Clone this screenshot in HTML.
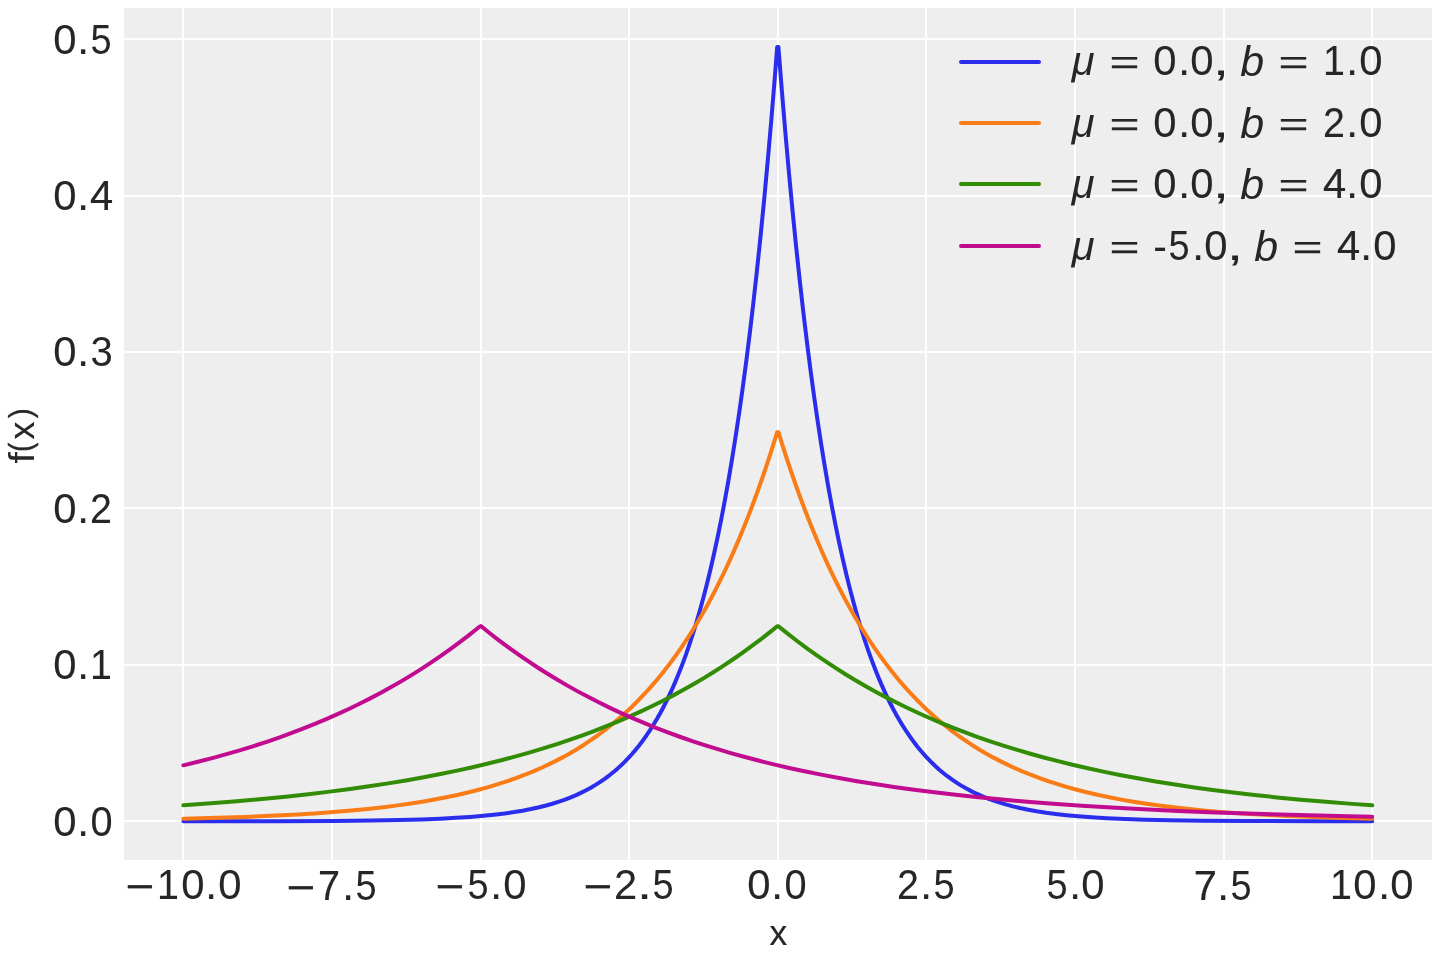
<!DOCTYPE html>
<html lang="en"><head><meta charset="utf-8"><title>Laplace distribution PDF</title>
<style>
html,body{margin:0;padding:0;background:#ffffff;width:1440px;height:960px;overflow:hidden}
svg{display:block;will-change:transform}
text{font-family:"Liberation Sans",sans-serif;fill:#262626;font-kerning:none;white-space:pre}
.it{font-style:italic}
</style></head><body>
<svg width="1440" height="960" viewBox="0 0 1440 960">
<rect x="0" y="0" width="1440" height="960" fill="#ffffff"/>
<rect x="124" y="8" width="1308" height="852" fill="#eeeeee"/>
<g fill="#ffffff">
<rect x="182" y="8" width="2" height="852"/><rect x="331" y="8" width="2" height="852"/><rect x="480" y="8" width="2" height="852"/><rect x="628" y="8" width="2" height="852"/><rect x="777" y="8" width="2" height="852"/><rect x="925" y="8" width="2" height="852"/><rect x="1074" y="8" width="2" height="852"/><rect x="1223" y="8" width="2" height="852"/><rect x="1371" y="8" width="2" height="852"/><rect x="124" y="38" width="1308" height="2"/><rect x="124" y="195" width="1308" height="2"/><rect x="124" y="351" width="1308" height="2"/><rect x="124" y="507" width="1308" height="2"/><rect x="124" y="664" width="1308" height="2"/><rect x="124" y="820" width="1308" height="2"/>
</g>
<g fill="none" stroke-width="4" stroke-linejoin="round" stroke-linecap="round">
<path stroke="#2a2eec" d="M183.40 821.31 L280.98 821.16 L334.53 820.89 L371.42 820.50 L398.79 820.01 L421.40 819.40 L440.44 818.66 L455.91 817.87 L470.19 816.92 L483.28 815.83 L493.99 814.74 L504.70 813.44 L514.22 812.07 L522.55 810.67 L530.88 809.06 L538.02 807.50 L545.16 805.73 L552.30 803.74 L558.25 801.88 L564.20 799.83 L570.15 797.57 L576.10 795.07 L580.86 792.87 L585.62 790.50 L590.38 787.93 L595.14 785.14 L599.90 782.13 L604.66 778.86 L609.42 775.31 L614.18 771.47 L617.75 768.39 L621.32 765.11 L624.89 761.63 L628.46 757.93 L632.03 754.01 L635.60 749.84 L639.17 745.41 L642.74 740.71 L646.31 735.72 L649.88 730.42 L653.45 724.79 L657.02 718.82 L660.59 712.47 L664.16 705.73 L667.73 698.57 L671.30 690.97 L674.87 682.90 L678.44 674.34 L682.01 665.24 L685.58 655.57 L689.15 645.31 L692.72 634.41 L696.29 622.84 L699.86 610.56 L703.43 597.51 L707.00 583.65 L710.57 568.94 L714.14 553.32 L717.71 536.72 L721.28 519.11 L724.85 500.40 L728.42 480.53 L731.99 459.43 L735.56 437.03 L739.13 413.24 L742.70 387.98 L746.27 361.16 L749.84 332.67 L753.41 302.42 L756.98 270.30 L760.55 236.19 L764.12 199.97 L767.69 161.50 L771.26 120.66 L774.83 77.29 L777.21 46.89 L778.41 46.89 L781.98 92.04 L785.55 134.55 L789.12 174.58 L792.69 212.28 L796.26 247.79 L799.83 281.22 L803.40 312.71 L806.97 342.36 L810.54 370.28 L814.11 396.57 L817.68 421.33 L821.25 444.65 L824.82 466.61 L828.39 487.29 L831.96 506.76 L835.53 525.10 L839.10 542.37 L842.67 558.63 L846.24 573.94 L849.81 588.36 L853.38 601.94 L856.95 614.73 L860.52 626.78 L864.09 638.12 L867.66 648.80 L871.23 658.86 L874.80 668.33 L878.37 677.25 L881.94 685.65 L885.51 693.56 L889.08 701.01 L892.65 708.02 L896.22 714.63 L899.79 720.85 L903.36 726.71 L906.93 732.22 L910.50 737.42 L914.07 742.31 L917.64 746.92 L921.21 751.26 L924.78 755.34 L928.35 759.19 L931.92 762.81 L935.49 766.22 L939.06 769.44 L942.63 772.46 L947.39 776.23 L952.15 779.70 L956.91 782.90 L961.67 785.86 L966.43 788.59 L971.19 791.11 L975.95 793.44 L981.90 796.10 L987.85 798.50 L993.80 800.68 L999.75 802.65 L1005.70 804.43 L1012.84 806.34 L1019.98 808.04 L1028.31 809.78 L1036.64 811.29 L1046.16 812.78 L1055.68 814.05 L1066.39 815.25 L1078.29 816.36 L1091.38 817.34 L1106.85 818.26 L1124.70 819.06 L1144.93 819.72 L1169.92 820.28 L1202.05 820.72 L1246.08 821.05 L1316.29 821.25 L1372.22 821.31"/>
<path stroke="#fa7c17" d="M183.40 818.71 L216.72 817.86 L245.28 816.91 L270.27 815.87 L292.88 814.73 L314.30 813.42 L333.34 812.04 L351.19 810.54 L367.85 808.91 L383.32 807.18 L397.60 805.37 L410.69 803.51 L423.78 801.44 L435.68 799.34 L447.58 797.03 L458.29 794.73 L469.00 792.22 L479.71 789.48 L489.23 786.82 L498.75 783.94 L508.27 780.83 L516.60 777.89 L524.93 774.73 L533.26 771.35 L541.59 767.72 L548.73 764.40 L555.87 760.87 L563.01 757.13 L570.15 753.16 L577.29 748.94 L584.43 744.45 L591.57 739.69 L597.52 735.50 L603.47 731.10 L609.42 726.47 L615.37 721.60 L621.32 716.48 L627.27 711.09 L633.22 705.44 L639.17 699.49 L645.12 693.23 L651.07 686.66 L657.02 679.74 L662.97 672.48 L668.92 664.84 L674.87 656.80 L680.82 648.36 L686.77 639.48 L691.53 632.05 L696.29 624.32 L701.05 616.27 L705.81 607.89 L710.57 599.17 L715.33 590.10 L720.09 580.65 L724.85 570.82 L729.61 560.58 L734.37 549.93 L739.13 538.84 L743.89 527.30 L748.65 515.29 L753.41 502.78 L758.17 489.77 L762.93 476.22 L767.69 462.12 L772.45 447.45 L777.21 432.17 L778.41 432.17 L783.17 447.45 L787.93 462.12 L792.69 476.22 L797.45 489.77 L802.21 502.78 L806.97 515.29 L811.73 527.30 L816.49 538.84 L821.25 549.93 L826.01 560.58 L830.77 570.82 L835.53 580.65 L840.29 590.10 L845.05 599.17 L849.81 607.89 L854.57 616.27 L859.33 624.32 L864.09 632.05 L868.85 639.48 L874.80 648.36 L880.75 656.80 L886.70 664.84 L892.65 672.48 L898.60 679.74 L904.55 686.66 L910.50 693.23 L916.45 699.49 L922.40 705.44 L928.35 711.09 L934.30 716.48 L940.25 721.60 L946.20 726.47 L952.15 731.10 L958.10 735.50 L964.05 739.69 L971.19 744.45 L978.33 748.94 L985.47 753.16 L992.61 757.13 L999.75 760.87 L1006.89 764.40 L1014.03 767.72 L1022.36 771.35 L1030.69 774.73 L1039.02 777.89 L1047.35 780.83 L1056.87 783.94 L1066.39 786.82 L1075.91 789.48 L1086.62 792.22 L1097.33 794.73 L1108.04 797.03 L1119.94 799.34 L1131.84 801.44 L1144.93 803.51 L1159.21 805.53 L1173.49 807.32 L1188.96 809.03 L1205.62 810.64 L1223.47 812.13 L1242.51 813.50 L1263.93 814.79 L1287.73 815.98 L1313.91 817.04 L1343.66 817.99 L1372.22 818.71"/>
<path stroke="#328c06" d="M183.40 805.29 L210.77 803.33 L236.95 801.24 L261.94 799.01 L285.74 796.66 L308.35 794.19 L329.77 791.63 L350.00 789.00 L369.04 786.30 L388.08 783.38 L405.93 780.42 L423.78 777.23 L440.44 774.02 L457.10 770.59 L472.57 767.18 L488.04 763.54 L502.32 759.96 L516.60 756.16 L530.88 752.12 L543.97 748.20 L557.06 744.06 L570.15 739.69 L583.24 735.07 L595.14 730.64 L607.04 725.98 L618.94 721.09 L630.84 715.95 L641.55 711.09 L652.26 706.01 L662.97 700.69 L673.68 695.14 L684.39 689.32 L695.10 683.24 L704.62 677.60 L714.14 671.72 L723.66 665.61 L733.18 659.25 L742.70 652.63 L752.22 645.73 L761.74 638.56 L771.26 631.09 L777.21 626.27 L778.41 626.27 L787.93 633.93 L797.45 641.28 L806.97 648.35 L816.49 655.14 L826.01 661.66 L835.53 667.93 L845.05 673.95 L854.57 679.74 L865.28 685.98 L875.99 691.94 L886.70 697.64 L897.41 703.09 L908.12 708.30 L918.83 713.27 L929.54 718.03 L941.44 723.08 L953.34 727.88 L965.24 732.44 L977.14 736.78 L990.23 741.31 L1003.32 745.60 L1016.41 749.65 L1029.50 753.49 L1043.78 757.45 L1058.06 761.17 L1073.53 764.96 L1089.00 768.52 L1104.47 771.84 L1121.13 775.19 L1137.79 778.32 L1155.64 781.43 L1173.49 784.32 L1192.53 787.16 L1212.76 789.95 L1232.99 792.51 L1254.41 795.00 L1277.02 797.39 L1300.82 799.67 L1325.81 801.83 L1351.99 803.87 L1372.22 805.29"/>
<path stroke="#c10c90" d="M183.40 765.32 L198.87 761.55 L213.15 757.85 L227.43 753.92 L240.52 750.10 L253.61 746.07 L266.70 741.81 L279.79 737.31 L291.69 732.99 L303.59 728.46 L315.49 723.69 L327.39 718.68 L338.10 713.95 L348.81 709.00 L359.52 703.82 L370.23 698.41 L380.94 692.74 L391.65 686.82 L402.36 680.62 L411.88 674.87 L421.40 668.89 L430.92 662.66 L440.44 656.18 L449.96 649.43 L459.48 642.41 L469.00 635.10 L478.52 627.49 L479.71 626.52 L480.90 626.03 L490.42 633.69 L499.94 641.06 L509.46 648.14 L518.98 654.93 L528.50 661.46 L538.02 667.74 L547.54 673.77 L557.06 679.56 L566.58 685.13 L577.29 691.13 L588.00 696.86 L598.71 702.34 L609.42 707.59 L620.13 712.60 L630.84 717.39 L642.74 722.46 L654.64 727.29 L666.54 731.88 L678.44 736.25 L691.53 740.81 L704.62 745.12 L717.71 749.20 L730.80 753.07 L745.08 757.05 L759.36 760.80 L774.83 764.61 L790.31 768.18 L805.78 771.53 L822.44 774.90 L839.10 778.05 L856.95 781.18 L874.80 784.08 L893.84 786.95 L914.07 789.76 L934.30 792.33 L955.72 794.83 L978.33 797.24 L1002.13 799.53 L1027.12 801.71 L1053.30 803.76 L1081.86 805.75 L1111.61 807.58 L1143.74 809.32 L1178.25 810.95 L1215.14 812.44 L1255.60 813.83 L1299.63 815.10 L1348.42 816.26 L1372.22 816.75"/>
</g>
<g stroke-width="4" stroke-linecap="round">
<line x1="961" y1="62" x2="1039" y2="62" stroke="#2a2eec"/>
<line x1="961" y1="123" x2="1039" y2="123" stroke="#fa7c17"/>
<line x1="961" y1="184" x2="1039" y2="184" stroke="#328c06"/>
<line x1="961" y1="246" x2="1039" y2="246" stroke="#c10c90"/>
</g>
<text font-size="42.40"><tspan x="53.37" y="54.10" textLength="23.27" lengthAdjust="spacingAndGlyphs" stroke="#262626" stroke-width="0.10">0</tspan><tspan x="77.16" y="53.77" textLength="11.67" lengthAdjust="spacingAndGlyphs" stroke="#262626" stroke-width="0.24">.</tspan><tspan x="90.48" y="54.38" textLength="21.11" lengthAdjust="spacingAndGlyphs">5</tspan></text>
<text font-size="42.40"><tspan x="53.37" y="210.10" textLength="23.27" lengthAdjust="spacingAndGlyphs" stroke="#262626" stroke-width="0.10">0</tspan><tspan x="77.16" y="209.77" textLength="11.67" lengthAdjust="spacingAndGlyphs" stroke="#262626" stroke-width="0.24">.</tspan><tspan x="90.04" y="210.09" textLength="23.18" lengthAdjust="spacingAndGlyphs" stroke="#262626" stroke-width="0.19">4</tspan></text>
<text font-size="42.40"><tspan x="53.37" y="366.10" textLength="23.27" lengthAdjust="spacingAndGlyphs" stroke="#262626" stroke-width="0.10">0</tspan><tspan x="77.16" y="365.77" textLength="11.67" lengthAdjust="spacingAndGlyphs" stroke="#262626" stroke-width="0.24">.</tspan><tspan x="90.47" y="366.10" textLength="22.29" lengthAdjust="spacingAndGlyphs">3</tspan></text>
<text font-size="42.40"><tspan x="53.37" y="523.10" textLength="23.27" lengthAdjust="spacingAndGlyphs" stroke="#262626" stroke-width="0.10">0</tspan><tspan x="77.16" y="522.77" textLength="11.67" lengthAdjust="spacingAndGlyphs" stroke="#262626" stroke-width="0.24">.</tspan><tspan x="90.01" y="523.30" textLength="21.97" lengthAdjust="spacingAndGlyphs" stroke="#262626" stroke-width="0.07">2</tspan></text>
<text font-size="42.40"><tspan x="53.37" y="679.10" textLength="23.27" lengthAdjust="spacingAndGlyphs" stroke="#262626" stroke-width="0.10">0</tspan><tspan x="77.16" y="678.77" textLength="11.67" lengthAdjust="spacingAndGlyphs" stroke="#262626" stroke-width="0.24">.</tspan><tspan x="90.00" y="679.09" textLength="21.93" lengthAdjust="spacingAndGlyphs" stroke="#262626" stroke-width="0.11">1</tspan></text>
<text font-size="42.40"><tspan x="53.37" y="836.10" textLength="23.27" lengthAdjust="spacingAndGlyphs" stroke="#262626" stroke-width="0.10">0</tspan><tspan x="77.16" y="835.77" textLength="11.67" lengthAdjust="spacingAndGlyphs" stroke="#262626" stroke-width="0.24">.</tspan><tspan x="90.45" y="836.10" textLength="22.11" lengthAdjust="spacingAndGlyphs" stroke="#262626" stroke-width="0.10">0</tspan></text>
<text font-size="42.40"><tspan x="125.56" y="900.60" textLength="28.85" lengthAdjust="spacingAndGlyphs" stroke="#262626" stroke-width="0.22">−</tspan><tspan x="157.00" y="899.09" textLength="21.93" lengthAdjust="spacingAndGlyphs" stroke="#262626" stroke-width="0.11">1</tspan><tspan x="181.37" y="899.10" textLength="23.27" lengthAdjust="spacingAndGlyphs" stroke="#262626" stroke-width="0.10">0</tspan><tspan x="205.16" y="898.77" textLength="11.67" lengthAdjust="spacingAndGlyphs" stroke="#262626" stroke-width="0.24">.</tspan><tspan x="218.37" y="899.10" textLength="23.27" lengthAdjust="spacingAndGlyphs" stroke="#262626" stroke-width="0.10">0</tspan></text>
<text font-size="42.40"><tspan x="286.56" y="901.60" textLength="28.85" lengthAdjust="spacingAndGlyphs" stroke="#262626" stroke-width="0.22">−</tspan><tspan x="317.97" y="900.09" textLength="22.02" lengthAdjust="spacingAndGlyphs" stroke="#262626" stroke-width="0.22">7</tspan><tspan x="342.16" y="899.77" textLength="11.67" lengthAdjust="spacingAndGlyphs" stroke="#262626" stroke-width="0.24">.</tspan><tspan x="355.48" y="899.88" textLength="21.11" lengthAdjust="spacingAndGlyphs">5</tspan></text>
<text font-size="42.40"><tspan x="435.56" y="900.60" textLength="28.85" lengthAdjust="spacingAndGlyphs" stroke="#262626" stroke-width="0.22">−</tspan><tspan x="467.48" y="898.88" textLength="21.11" lengthAdjust="spacingAndGlyphs">5</tspan><tspan x="490.16" y="898.77" textLength="11.67" lengthAdjust="spacingAndGlyphs" stroke="#262626" stroke-width="0.24">.</tspan><tspan x="503.37" y="899.10" textLength="23.27" lengthAdjust="spacingAndGlyphs" stroke="#262626" stroke-width="0.10">0</tspan></text>
<text font-size="42.40"><tspan x="583.56" y="900.60" textLength="28.85" lengthAdjust="spacingAndGlyphs" stroke="#262626" stroke-width="0.22">−</tspan><tspan x="613.90" y="899.30" textLength="23.20" lengthAdjust="spacingAndGlyphs" stroke="#262626" stroke-width="0.07">2</tspan><tspan x="637.21" y="898.77" textLength="14.59" lengthAdjust="spacingAndGlyphs" stroke="#262626" stroke-width="0.24">.</tspan><tspan x="652.48" y="898.88" textLength="21.11" lengthAdjust="spacingAndGlyphs">5</tspan></text>
<text font-size="42.40"><tspan x="747.37" y="899.10" textLength="23.27" lengthAdjust="spacingAndGlyphs" stroke="#262626" stroke-width="0.10">0</tspan><tspan x="771.16" y="898.77" textLength="11.67" lengthAdjust="spacingAndGlyphs" stroke="#262626" stroke-width="0.24">.</tspan><tspan x="784.45" y="899.10" textLength="22.11" lengthAdjust="spacingAndGlyphs" stroke="#262626" stroke-width="0.10">0</tspan></text>
<text font-size="42.40"><tspan x="897.01" y="899.30" textLength="21.97" lengthAdjust="spacingAndGlyphs" stroke="#262626" stroke-width="0.07">2</tspan><tspan x="920.16" y="898.77" textLength="11.67" lengthAdjust="spacingAndGlyphs" stroke="#262626" stroke-width="0.24">.</tspan><tspan x="933.48" y="899.38" textLength="21.11" lengthAdjust="spacingAndGlyphs">5</tspan></text>
<text font-size="42.40"><tspan x="1046.48" y="899.38" textLength="21.11" lengthAdjust="spacingAndGlyphs">5</tspan><tspan x="1069.16" y="898.77" textLength="11.67" lengthAdjust="spacingAndGlyphs" stroke="#262626" stroke-width="0.24">.</tspan><tspan x="1081.37" y="899.10" textLength="23.27" lengthAdjust="spacingAndGlyphs" stroke="#262626" stroke-width="0.10">0</tspan></text>
<text font-size="42.40"><tspan x="1193.86" y="900.09" textLength="23.24" lengthAdjust="spacingAndGlyphs" stroke="#262626" stroke-width="0.22">7</tspan><tspan x="1217.16" y="899.77" textLength="11.67" lengthAdjust="spacingAndGlyphs" stroke="#262626" stroke-width="0.24">.</tspan><tspan x="1230.48" y="900.38" textLength="21.11" lengthAdjust="spacingAndGlyphs">5</tspan></text>
<text font-size="42.40"><tspan x="1330.00" y="899.09" textLength="21.93" lengthAdjust="spacingAndGlyphs" stroke="#262626" stroke-width="0.11">1</tspan><tspan x="1353.37" y="899.10" textLength="23.27" lengthAdjust="spacingAndGlyphs" stroke="#262626" stroke-width="0.10">0</tspan><tspan x="1378.16" y="898.77" textLength="11.67" lengthAdjust="spacingAndGlyphs" stroke="#262626" stroke-width="0.24">.</tspan><tspan x="1390.37" y="899.10" textLength="23.27" lengthAdjust="spacingAndGlyphs" stroke="#262626" stroke-width="0.10">0</tspan></text>
<text x="769.60" y="945.00" font-size="35.96" textLength="17.78" lengthAdjust="spacingAndGlyphs" stroke="#262626" stroke-width="0.15">x</text>
<text transform="rotate(-90)" font-size="35.93"><tspan x="-463.59" y="34.00" textLength="11.53" lengthAdjust="spacingAndGlyphs">f</tspan><tspan x="-451.64" y="31.33" font-size="32.20" textLength="8.79" lengthAdjust="spacingAndGlyphs" stroke="#262626" stroke-width="0.58">(</tspan><tspan x="-439.40" y="34.00" font-size="35.96" textLength="17.78" lengthAdjust="spacingAndGlyphs" stroke="#262626" stroke-width="0.15">x</tspan><tspan x="-418.18" y="31.33" font-size="32.20" textLength="10.05" lengthAdjust="spacingAndGlyphs" stroke="#262626" stroke-width="0.26">)</tspan></text>
<text font-size="40.45"><tspan x="1071.87" y="75.27" textLength="22.80" lengthAdjust="spacingAndGlyphs" class="it">μ</tspan> <tspan x="1109.49" y="73.73" font-size="34.13" textLength="30.05" lengthAdjust="spacingAndGlyphs" stroke="#262626" stroke-width="0.25">=</tspan> <tspan x="1153.37" y="75.10" font-size="42.40" textLength="23.27" lengthAdjust="spacingAndGlyphs" stroke="#262626" stroke-width="0.10">0</tspan><tspan x="1178.16" y="74.77" font-size="42.40" textLength="11.67" lengthAdjust="spacingAndGlyphs" stroke="#262626" stroke-width="0.24">.</tspan><tspan x="1190.37" y="75.10" font-size="42.40" textLength="23.27" lengthAdjust="spacingAndGlyphs" stroke="#262626" stroke-width="0.10">0</tspan><tspan x="1212.51" y="75.05" font-size="42.40" textLength="16.99" lengthAdjust="spacingAndGlyphs">,</tspan> <tspan x="1240.39" y="75.65" font-size="42.40" textLength="23.93" lengthAdjust="spacingAndGlyphs" class="it">b</tspan> <tspan x="1278.49" y="73.73" font-size="34.13" textLength="30.05" lengthAdjust="spacingAndGlyphs" stroke="#262626" stroke-width="0.25">=</tspan> <tspan x="1323.00" y="75.09" font-size="42.40" textLength="21.93" lengthAdjust="spacingAndGlyphs" stroke="#262626" stroke-width="0.11">1</tspan><tspan x="1346.16" y="74.77" font-size="42.40" textLength="11.67" lengthAdjust="spacingAndGlyphs" stroke="#262626" stroke-width="0.24">.</tspan><tspan x="1359.37" y="75.10" font-size="42.40" textLength="23.27" lengthAdjust="spacingAndGlyphs" stroke="#262626" stroke-width="0.10">0</tspan></text>
<text font-size="40.45"><tspan x="1071.87" y="137.27" textLength="22.80" lengthAdjust="spacingAndGlyphs" class="it">μ</tspan> <tspan x="1109.49" y="135.73" font-size="34.13" textLength="30.05" lengthAdjust="spacingAndGlyphs" stroke="#262626" stroke-width="0.25">=</tspan> <tspan x="1153.37" y="137.10" font-size="42.40" textLength="23.27" lengthAdjust="spacingAndGlyphs" stroke="#262626" stroke-width="0.10">0</tspan><tspan x="1178.16" y="136.77" font-size="42.40" textLength="11.67" lengthAdjust="spacingAndGlyphs" stroke="#262626" stroke-width="0.24">.</tspan><tspan x="1190.37" y="137.10" font-size="42.40" textLength="23.27" lengthAdjust="spacingAndGlyphs" stroke="#262626" stroke-width="0.10">0</tspan><tspan x="1212.51" y="137.05" font-size="42.40" textLength="16.99" lengthAdjust="spacingAndGlyphs">,</tspan> <tspan x="1240.39" y="137.65" font-size="42.40" textLength="23.93" lengthAdjust="spacingAndGlyphs" class="it">b</tspan> <tspan x="1278.49" y="135.73" font-size="34.13" textLength="30.05" lengthAdjust="spacingAndGlyphs" stroke="#262626" stroke-width="0.25">=</tspan> <tspan x="1323.01" y="136.80" font-size="42.40" textLength="21.97" lengthAdjust="spacingAndGlyphs" stroke="#262626" stroke-width="0.07">2</tspan><tspan x="1346.16" y="136.77" font-size="42.40" textLength="11.67" lengthAdjust="spacingAndGlyphs" stroke="#262626" stroke-width="0.24">.</tspan><tspan x="1359.37" y="137.10" font-size="42.40" textLength="23.27" lengthAdjust="spacingAndGlyphs" stroke="#262626" stroke-width="0.10">0</tspan></text>
<text font-size="40.45"><tspan x="1071.87" y="198.27" textLength="22.80" lengthAdjust="spacingAndGlyphs" class="it">μ</tspan> <tspan x="1109.49" y="196.73" font-size="34.13" textLength="30.05" lengthAdjust="spacingAndGlyphs" stroke="#262626" stroke-width="0.25">=</tspan> <tspan x="1153.37" y="198.10" font-size="42.40" textLength="23.27" lengthAdjust="spacingAndGlyphs" stroke="#262626" stroke-width="0.10">0</tspan><tspan x="1178.16" y="197.77" font-size="42.40" textLength="11.67" lengthAdjust="spacingAndGlyphs" stroke="#262626" stroke-width="0.24">.</tspan><tspan x="1190.37" y="198.10" font-size="42.40" textLength="23.27" lengthAdjust="spacingAndGlyphs" stroke="#262626" stroke-width="0.10">0</tspan><tspan x="1212.51" y="198.05" font-size="42.40" textLength="16.99" lengthAdjust="spacingAndGlyphs">,</tspan> <tspan x="1240.39" y="198.65" font-size="42.40" textLength="23.93" lengthAdjust="spacingAndGlyphs" class="it">b</tspan> <tspan x="1278.49" y="196.73" font-size="34.13" textLength="30.05" lengthAdjust="spacingAndGlyphs" stroke="#262626" stroke-width="0.25">=</tspan> <tspan x="1323.04" y="198.09" font-size="42.40" textLength="23.18" lengthAdjust="spacingAndGlyphs" stroke="#262626" stroke-width="0.19">4</tspan><tspan x="1346.16" y="197.77" font-size="42.40" textLength="11.67" lengthAdjust="spacingAndGlyphs" stroke="#262626" stroke-width="0.24">.</tspan><tspan x="1359.37" y="198.10" font-size="42.40" textLength="23.27" lengthAdjust="spacingAndGlyphs" stroke="#262626" stroke-width="0.10">0</tspan></text>
<text font-size="40.45"><tspan x="1071.87" y="260.27" textLength="22.80" lengthAdjust="spacingAndGlyphs" class="it">μ</tspan> <tspan x="1109.49" y="258.73" font-size="34.13" textLength="30.05" lengthAdjust="spacingAndGlyphs" stroke="#262626" stroke-width="0.25">=</tspan> <tspan x="1153.18" y="260.76" font-size="42.40" textLength="13.64" lengthAdjust="spacingAndGlyphs">-</tspan><tspan x="1168.48" y="260.38" font-size="42.40" textLength="21.11" lengthAdjust="spacingAndGlyphs">5</tspan><tspan x="1192.16" y="259.77" font-size="42.40" textLength="11.67" lengthAdjust="spacingAndGlyphs" stroke="#262626" stroke-width="0.24">.</tspan><tspan x="1204.37" y="260.10" font-size="42.40" textLength="23.27" lengthAdjust="spacingAndGlyphs" stroke="#262626" stroke-width="0.10">0</tspan><tspan x="1226.51" y="260.05" font-size="42.40" textLength="16.99" lengthAdjust="spacingAndGlyphs">,</tspan> <tspan x="1254.39" y="260.65" font-size="42.40" textLength="23.93" lengthAdjust="spacingAndGlyphs" class="it">b</tspan> <tspan x="1292.49" y="258.73" font-size="34.13" textLength="30.05" lengthAdjust="spacingAndGlyphs" stroke="#262626" stroke-width="0.25">=</tspan> <tspan x="1337.04" y="260.09" font-size="42.40" textLength="23.18" lengthAdjust="spacingAndGlyphs" stroke="#262626" stroke-width="0.19">4</tspan><tspan x="1360.16" y="259.77" font-size="42.40" textLength="11.67" lengthAdjust="spacingAndGlyphs" stroke="#262626" stroke-width="0.24">.</tspan><tspan x="1373.37" y="260.10" font-size="42.40" textLength="23.27" lengthAdjust="spacingAndGlyphs" stroke="#262626" stroke-width="0.10">0</tspan></text>
</svg>
</body></html>
